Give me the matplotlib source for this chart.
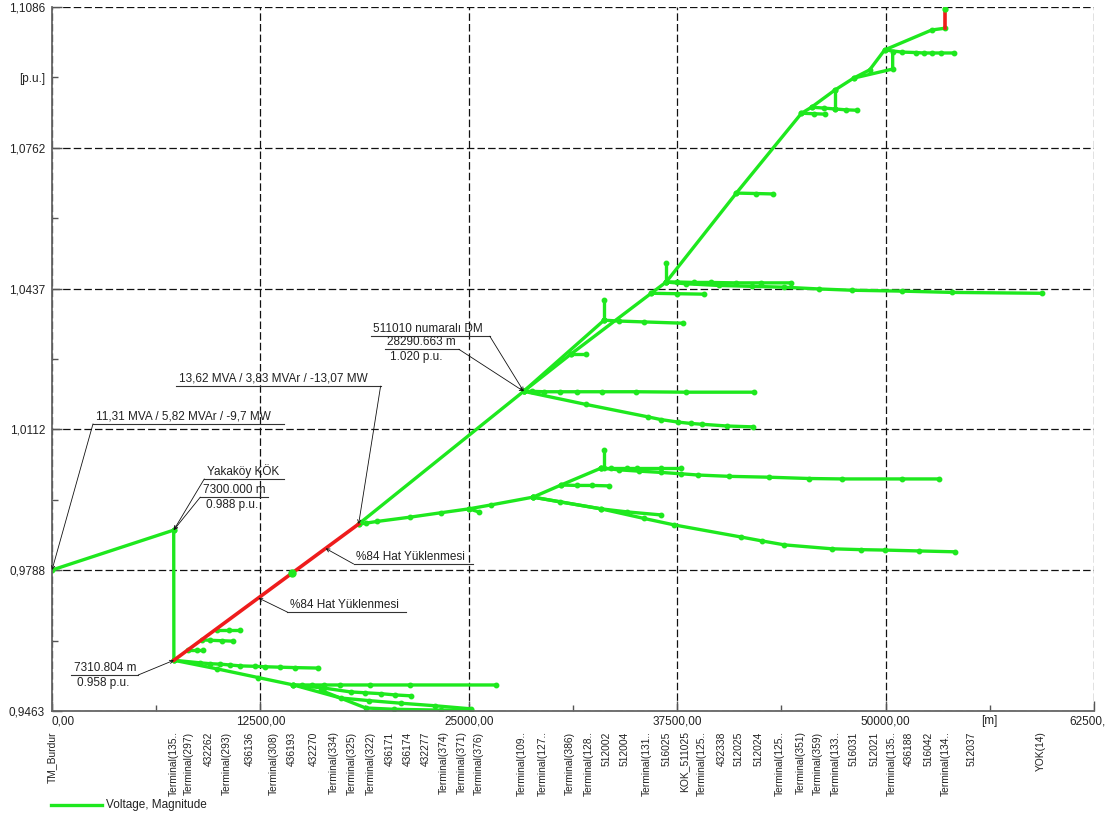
import numpy as np
import matplotlib.pyplot as plt
from matplotlib.lines import Line2D
from matplotlib import font_manager

plt.rcParams['font.family'] = ['Liberation Sans', 'DejaVu Sans']

GREEN = '#1ee81e'
RED = '#ee1c1c'
INK = '#222222'

# eksenler
x_ticks = [0, 12500, 25000, 37500, 50000, 62500]
x_tick_labels = ['0,00', '12500,00', '25000,00', '37500,00', '50000,00', '62500,00']
x_minor = [6250, 18750, 31250, 43750, 56250]
y_ticks = [0.9463, 0.9788, 1.0112, 1.0437, 1.0762, 1.1086]
y_tick_labels = ['0,9463', '0,9788', '1,0112', '1,0437', '1,0762', '1,1086']
y_minor = [0.96255, 0.9950, 1.02745, 1.05995, 1.0924]

# bara isimleri ve mesafeleri [m]
bus_names = ['TM_Burdur', 'Terminal(135..', 'Terminal(297)', '432262', 'Terminal(293)',
             '436136', 'Terminal(308)', '436193', '432270', 'Terminal(334)',
             'Terminal(325)', 'Terminal(322)', '436171', '436174', '432277',
             'Terminal(374)', 'Terminal(371)', 'Terminal(376)', 'Terminal(109..',
             'Terminal(127..', 'Terminal(386)', 'Terminal(128..', '512002', '512004',
             'Terminal(131..', '516025', 'KOK_511025', 'Terminal(125..', '432338',
             '512025', '512024', 'Terminal(125..', 'Terminal(351)', 'Terminal(359)',
             'Terminal(133..', '516031', '512021', 'Terminal(135..', '436188',
             '516042', 'Terminal(134..', '512037', 'YOK(14)']
bus_dist = [0, 7310, 8230, 9380, 10460, 11840, 13280, 14360, 15690, 16890,
            17970, 19110, 20250, 21340, 22420, 23500, 24580, 25600, 28190,
            29450, 31070, 32210, 33240, 34320, 35700, 36840, 37920, 39000, 40150,
            41170, 42370, 43630, 44890, 45920, 47000, 48080, 49340, 50360, 51390,
            52590, 53610, 55170, 59320]

# ana hat: TM_Burdur -> Yakakoy KOK -> 7310 m
burdur_x = [0, 7300]
burdur_y = [0.9788, 0.988]
yakakoy_x = [7300, 7310.804]
yakakoy_y = [0.988, 0.958]

# %84 yuklu hat (kirmizi)
red_x = [7310.804, 18391]
red_y = [0.958, 0.9894]
red_dot = (14424, 0.978)
red_top_x = [53549, 53549]
red_top_y = [1.1037, 1.1082]

# kirmizi hattan cikan kisa kollar
rb1_x = [8174, 8700, 9075]
rb1_y = [0.9604, 0.9604, 0.9604]
rb2_x = [9015, 9500, 10200, 10878]
rb2_y = [0.9627, 0.9626, 0.9625, 0.9624]
rb3_x = [9917, 10600, 11299]
rb3_y = [0.9650, 0.9650, 0.9650]

# 7310 m dugumunden cikan kollar
cb1_x = [7310.8, 8895, 9496, 10097, 10698, 11299, 12200, 12801, 13703, 14604, 15927]
cb1_y = [0.958, 0.9574, 0.9572, 0.9571, 0.9569, 0.9567, 0.9566, 0.9565, 0.9564, 0.9563, 0.9562]
cb2_x = [7310.8, 9917, 12381, 14484, 15000, 15600, 16300, 17300, 19100, 21500, 26624]
cb2_y = [0.958, 0.9560, 0.9540, 0.9523, 0.9523, 0.9523, 0.9523, 0.9523, 0.9523, 0.9523, 0.9523]
b2a_x = [14484, 16287, 17910, 18800, 19713, 20600, 21516]
b2a_y = [0.9523, 0.9516, 0.9507, 0.9505, 0.9503, 0.9500, 0.9498]
b2b_x = [14484, 17309, 19000, 20915, 23000, 25122]
b2b_y = [0.9523, 0.9493, 0.9487, 0.9481, 0.9475, 0.9468]
b2c_x = [16107, 18811, 20500, 23319, 25122]
b2c_y = [0.9511, 0.9470, 0.9467, 0.9465, 0.9465]

# 18391 m dugumunden cikan alt fider
lf_x = [18391, 18811, 19500, 21500, 23319, 25002, 26324, 28848]
lf_y = [0.9894, 0.9896, 0.9900, 0.9910, 0.9920, 0.9929, 0.9938, 0.9956]
lfs_x = [25002, 25602]
lfs_y = [0.9929, 0.9922]
uf_x = [28848, 30531, 32935]
uf_y = [0.9956, 0.9984, 1.0023]
ufs_x = [33115, 33115]
ufs_y = [1.0023, 1.0065]
ufh_x = [32935, 33500, 34500, 35100, 36500, 37743]
ufh_y = [1.0023, 1.0023, 1.0023, 1.0023, 1.0023, 1.0023]
ufl_x = [32935, 34000, 35200, 36541, 37700, 38765, 40600, 43000, 45400, 47359, 50965, 53189]
ufl_y = [1.0023, 1.0019, 1.0016, 1.0013, 1.0010, 1.0007, 1.0004, 1.0002, 0.9999, 0.9998, 0.9998, 0.9998]
ufb_x = [30531, 31500, 32400, 33416]
ufb_y = [0.9984, 0.9983, 0.9983, 0.9982]
lss_x = [28848, 30500, 32935, 34500, 36541]
lss_y = [0.9956, 0.9945, 0.9929, 0.9922, 0.9915]
lsl_x = [28848, 32935, 35500, 37322, 41349, 42600, 43933, 46758, 48500, 49943, 52000, 54150]
lsl_y = [0.9956, 0.9929, 0.9907, 0.9892, 0.9864, 0.9855, 0.9846, 0.9837, 0.9835, 0.9834, 0.9832, 0.9830]

# 18391 m -> 511010 numarali DM -> hat sonu
trunk_x = [18391, 28290.663]
trunk_y = [0.9894, 1.020]
upper_x = [28290.663, 31132, 35940, 36841, 41048, 44955, 45556, 46938, 48080, 49042, 49943, 52768, 53549]
upper_y = [1.020, 1.0286, 1.0426, 1.0452, 1.0657, 1.0841, 1.0855, 1.0894, 1.0922, 1.0941, 1.0987, 1.1033, 1.1037]

dmh_x = [28290.663, 28800, 29500, 30500, 31500, 33000, 35000, 38000, 42130]
dmh_y = [1.020, 1.0200, 1.0199, 1.0199, 1.0199, 1.0199, 1.0199, 1.0198, 1.0198]
dmd_x = [28290.663, 32000, 35760, 36500, 37562, 38300, 39000, 40500, 42070]
dmd_y = [1.020, 1.0170, 1.0141, 1.0135, 1.0129, 1.0126, 1.0124, 1.0120, 1.0118]
dmu_x = [28290.663, 33115]
dmu_y = [1.020, 1.0364]
dmus_x = [33115, 33115]
dmus_y = [1.0364, 1.0410]
dmuh_x = [33115, 34000, 35500, 37863]
dmuh_y = [1.0364, 1.0362, 1.0360, 1.0357]
dms_x = [31132, 32033]
dms_y = [1.0286, 1.0286]

fs_x = [36841, 36841]
fs_y = [1.0452, 1.0496]
fh_x = [36841, 37500, 38500, 39500, 41000, 42500, 44354]
fh_y = [1.0452, 1.0452, 1.0451, 1.0451, 1.0450, 1.0450, 1.0450]
fl_x = [36841, 38000, 40000, 42000, 43933, 46000, 48000, 50965, 54000, 59379]
fl_y = [1.0452, 1.0448, 1.0444, 1.0442, 1.0440, 1.0436, 1.0433, 1.0431, 1.0428, 1.0426]
fsh_x = [35940, 37500, 39125]
fsh_y = [1.0426, 1.0425, 1.0424]

gb_x = [41048, 42200, 43272]
gb_y = [1.0657, 1.0656, 1.0655]
hb_x = [44955, 45700, 46337]
hb_y = [1.0841, 1.0840, 1.0839]
ib_x = [45556, 46300, 46938, 47600, 48260]
ib_y = [1.0855, 1.0853, 1.0851, 1.0849, 1.0848]
is_x = [46938, 46938]
is_y = [1.0851, 1.0894]
kb_x = [48080, 50424, 50424]
kb_y = [1.0922, 1.0943, 1.0982]
lb_x = [49943, 51000, 51800, 52300, 52800, 53300, 54090]
lb_y = [1.0987, 1.0982, 1.0981, 1.0980, 1.0980, 1.0980, 1.0980]

green_lines = [
    (burdur_x, burdur_y), (yakakoy_x, yakakoy_y),
    (rb1_x, rb1_y), (rb2_x, rb2_y), (rb3_x, rb3_y),
    (cb1_x, cb1_y), (cb2_x, cb2_y), (b2a_x, b2a_y), (b2b_x, b2b_y), (b2c_x, b2c_y),
    (lf_x, lf_y), (lfs_x, lfs_y), (uf_x, uf_y), (ufs_x, ufs_y), (ufh_x, ufh_y),
    (ufl_x, ufl_y), (ufb_x, ufb_y), (lss_x, lss_y), (lsl_x, lsl_y),
    (trunk_x, trunk_y), (upper_x, upper_y),
    (dmh_x, dmh_y), (dmd_x, dmd_y), (dmu_x, dmu_y), (dmus_x, dmus_y),
    (dmuh_x, dmuh_y), (dms_x, dms_y),
    (fs_x, fs_y), (fh_x, fh_y), (fl_x, fl_y), (fsh_x, fsh_y),
    (gb_x, gb_y), (hb_x, hb_y), (ib_x, ib_y), (is_x, is_y), (kb_x, kb_y), (lb_x, lb_y),
]

node_burdur = (burdur_x[0], burdur_y[0])
node_yakakoy = (burdur_x[1], burdur_y[1])
node_7310 = (yakakoy_x[1], yakakoy_y[1])
node_red_end = (red_x[1], red_y[1])
node_dm = (trunk_x[1], trunk_y[1])

# bara isimleri icin dar font (varsa)
installed = {f.name for f in font_manager.fontManager.ttflist}
if 'Liberation Sans Narrow' in installed:
    bus_font, bus_size = ['Liberation Sans Narrow', 'Liberation Sans'], 8.2
else:
    bus_font, bus_size = ['Liberation Sans', 'DejaVu Sans'], 7.4


def callout(ax, node, text, x0, x1, yline, side, below=None):
    """Altı çizili etiket + düğüme giden ince kılavuz çizgi."""
    ax.plot([x0, x1], [yline, yline], color='#333333', lw=0.8, zorder=4)
    ax.annotate(text, (x0 + 150, yline), xytext=(0, 1), textcoords='offset points',
                fontsize=8.5, color=INK, va='bottom', ha='left', zorder=5)
    if below is not None:
        ax.annotate(below, (x0 + 350, yline), xytext=(0, -1.5), textcoords='offset points',
                    fontsize=8.5, color=INK, va='top', ha='left', zorder=5)
    xs = x0 if side == 'left' else x1
    ax.annotate('', xy=node, xytext=(xs, yline),
                arrowprops=dict(arrowstyle='->', lw=0.6, color='#111111',
                                shrinkA=0, shrinkB=0, mutation_scale=6), zorder=5)


fig = plt.figure(figsize=(11.05, 8.14), dpi=100)
ax = fig.add_axes([52 / 1105, 103 / 814, 1042 / 1105, 704 / 814])

for bx, by in green_lines:
    ax.plot(bx, by, color=GREEN, lw=2.4, marker='o', ms=3.2, mec=GREEN, mfc=GREEN,
            solid_capstyle='round', zorder=2)
ax.plot(red_x, red_y, color=RED, lw=2.6, zorder=3)
ax.plot(red_top_x, red_top_y, color=RED, lw=2.6, zorder=3)
ax.plot(red_top_x[1], red_top_y[1], 'o', color=GREEN, ms=3.5, zorder=3)
ax.plot(*red_dot, 'o', color=GREEN, ms=5, zorder=3)

ax.set_xlim(0, 62500)
ax.set_ylim(y_ticks[0], y_ticks[-1])

ax.set_xticks(x_ticks, x_tick_labels)
ax.set_xticks(x_minor, ['', '', '', '', '[m]'], minor=True)
ax.set_yticks(y_ticks, y_tick_labels)
ax.set_yticks(y_minor, ['', '', '', '', '[p.u.]'], minor=True)
ax.get_xticklabels()[0].set_horizontalalignment('left')
ax.tick_params(which='both', direction='in', colors='#555555', labelcolor=INK,
               labelsize=8.5)
ax.tick_params(which='major', length=7, width=1)
ax.tick_params(which='minor', length=4, width=1)
ax.tick_params(axis='x', which='both', pad=3)
ax.tick_params(axis='y', which='both', pad=5)

ax.set_axisbelow(True)
ax.grid(True, which='major', color='#111111', lw=0.9, linestyle=(0, (6, 2.5)))
for side in ['top', 'right']:
    ax.spines[side].set_visible(False)
for side in ['left', 'bottom']:
    ax.spines[side].set_color('#666666')
    ax.spines[side].set_linewidth(1.3)

# bara isimleri (x ekseni altinda dikey)
for name, d in zip(bus_names, bus_dist):
    ax.text(d, -0.029, name, transform=ax.get_xaxis_transform(), rotation=90,
            ha='center', va='top', fontsize=bus_size, family=bus_font, color=INK,
            clip_on=False)

# etiketler
red_at = lambda x: float(np.interp(x, red_x, red_y))
callout(ax, node_burdur, '11,31 MVA / 5,82 MVAr / -9,7 MW', 2460, 13940, 1.0125, 'left')
callout(ax, node_red_end, '13,62 MVA / 3,83 MVAr / -13,07 MW', 7450, 19710, 1.0212, 'right')
callout(ax, node_yakakoy, 'Yakaköy KÖK', 9135, 13940, 0.9998, 'left')
callout(ax, node_yakakoy, '7300.000 m', 8895, 12980, 0.9956, 'left', below='0.988 p.u.')
callout(ax, node_7310, '7310.804 m', 1140, 5170, 0.9546, 'right', below='0.958 p.u.')
callout(ax, (16410, red_at(16410)), '%84 Hat Yüklenmesi', 18090, 25240, 0.9802, 'left')
callout(ax, (12380, red_at(12380)), '%84 Hat Yüklenmesi', 14120, 21215, 0.9691, 'left')
callout(ax, node_dm, '511010 numaralı DM', 19110, 26260, 1.0327, 'right')
callout(ax, node_dm, '28290.663 m', 19950, 24400, 1.0297, 'right', below='1.020 p.u.')

# lejant
fig.add_artist(Line2D([51 / 1105, 102 / 1105], [1 - 805 / 814] * 2, color=GREEN, lw=2.4))
fig.text(106 / 1105, 1 - 805 / 814, 'Voltage, Magnitude', fontsize=8.5, color=INK, va='center')

fig.savefig('out.png', dpi=100)
